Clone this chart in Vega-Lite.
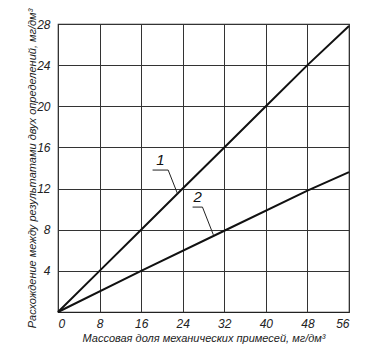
{
  "$schema": "https://vega.github.io/schema/vega-lite/v6.json",
  "width": 291,
  "height": 288,
  "autosize": "none",
  "padding": {"left": 58, "top": 24, "right": 22, "bottom": 41},
  "background": "white",
  "config": {
    "view": {"stroke": "#222", "strokeWidth": 1.2},
    "font": "Liberation Sans",
    "axis": {
      "labelFont": "Liberation Sans",
      "titleFont": "Liberation Sans",
      "labelFontStyle": "italic",
      "titleFontStyle": "italic",
      "labelFontSize": 12,
      "titleFontSize": 11,
      "titleFontWeight": "normal",
      "labelColor": "#222",
      "titleColor": "#222",
      "gridColor": "#333",
      "gridOpacity": 1,
      "gridWidth": 1,
      "ticks": false,
      "domain": false
    }
  },
  "datasets": {
    "lines": [
      {"x": 0, "y": 0, "s": "1"},
      {"x": 8, "y": 4, "s": "1"},
      {"x": 16, "y": 8, "s": "1"},
      {"x": 24, "y": 12, "s": "1"},
      {"x": 32, "y": 16, "s": "1"},
      {"x": 40, "y": 20, "s": "1"},
      {"x": 48, "y": 24, "s": "1"},
      {"x": 56, "y": 27.8, "s": "1"},
      {"x": 0, "y": 0, "s": "2"},
      {"x": 16, "y": 4, "s": "2"},
      {"x": 32, "y": 7.9, "s": "2"},
      {"x": 48, "y": 11.8, "s": "2"},
      {"x": 56, "y": 13.6, "s": "2"}
    ],
    "leaders": [
      {"x": 18.2, "y": 13.8, "k": "1"},
      {"x": 21.2, "y": 13.8, "k": "1"},
      {"x": 23, "y": 11.5, "k": "1"},
      {"x": 25.9, "y": 10.2, "k": "2"},
      {"x": 27.8, "y": 10.2, "k": "2"},
      {"x": 29.9, "y": 7.5, "k": "2"}
    ],
    "labels": [
      {"x": 19.7, "y": 14.0, "t": "1"},
      {"x": 26.9, "y": 10.4, "t": "2"}
    ]
  },
  "layer": [
    {
      "data": {"name": "lines"},
      "mark": {"type": "line", "color": "#111", "strokeWidth": 2},
      "encoding": {
        "x": {
          "field": "x", "type": "quantitative",
          "scale": {"domain": [0, 56], "nice": false},
          "axis": {"values": [0, 8, 16, 24, 32, 40, 48, 56], "title": "Массовая доля механических примесей, мг/дм³", "labelPadding": 6, "titleY": 20, "titleBaseline": "top"}
        },
        "y": {
          "field": "y", "type": "quantitative",
          "scale": {"domain": [0, 28], "nice": false},
          "axis": {"values": [4, 8, 12, 16, 20, 24, 28], "title": "Расхождение между результатами двух определений, мг/дм³", "labelPadding": 8, "titleX": -21, "titleY": 144, "titleBaseline": "bottom"}
        },
        "detail": {"field": "s"}
      }
    },
    {
      "data": {"name": "leaders"},
      "mark": {"type": "line", "color": "#222", "strokeWidth": 1},
      "encoding": {
        "x": {"field": "x", "type": "quantitative"},
        "y": {"field": "y", "type": "quantitative"},
        "detail": {"field": "k"},
        "order": {"field": "x"}
      }
    },
    {
      "data": {"name": "labels"},
      "mark": {"type": "text", "font": "Liberation Sans", "fontStyle": "italic", "fontSize": 15, "baseline": "bottom", "align": "center", "color": "#111"},
      "encoding": {
        "x": {"field": "x", "type": "quantitative"},
        "y": {"field": "y", "type": "quantitative"},
        "text": {"field": "t"}
      }
    }
  ]
}
